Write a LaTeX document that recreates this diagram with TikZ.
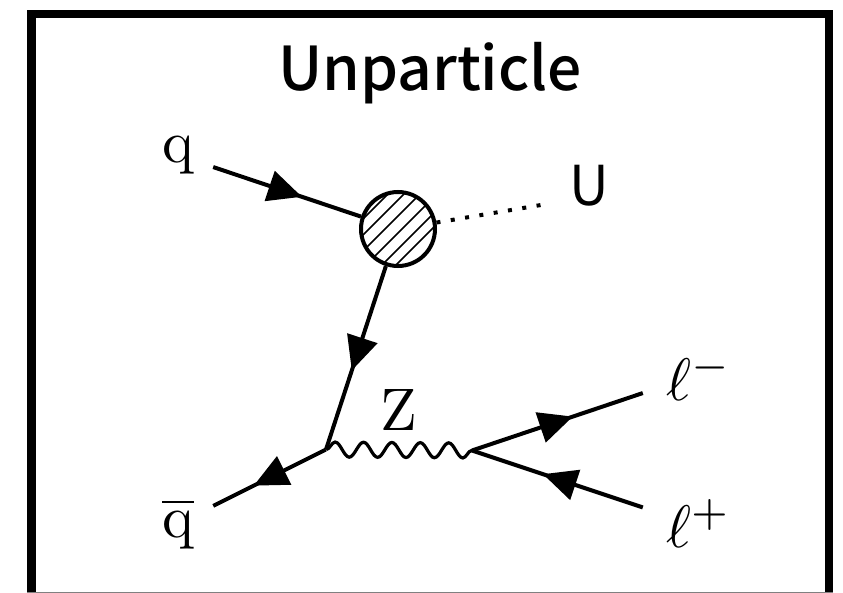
\documentclass[tikz,border=0pt]{standalone}
\usepackage{fontspec}
\newfontfamily\krfont{Noto Sans CJK KR}
\newfontfamily\krtitle{Noto Sans CJK KR Medium}
\usetikzlibrary{arrows.meta, decorations.markings, decorations.pathmorphing}

\begin{document}
\begin{tikzpicture}[
  x=1pt, y=-1pt,
  lbl/.style={inner sep=0pt, anchor=base, scale=6, transform shape},
  lblw/.style={lbl, anchor=base west},
  vertex/.style={inner sep=0pt, minimum size=0pt},
  blob/.style={circle, draw, line width=4pt, fill=white, minimum size=74pt, inner sep=0pt},
  line/.style={line width=4pt},
  fermion/.style={line, postaction={decorate}, decoration={markings,
      mark=at position #1 with {\arrow{Triangle[length=34pt, width=31pt]}}}},
  boson/.style={line width=3.2pt, decorate, decoration={snake, segment length=28.4pt, amplitude=7.5pt, pre length=0pt, post length=0pt}},
  scalar/.style={line width=4pt, dash pattern=on 4pt off 10.5pt},
]
\useasboundingbox (0,0) rectangle (843,593);
\draw[line width=8.3pt] (31.5,593) -- (31.5,14) -- (829,14) -- (829,593);
\draw[line width=0.6pt, gray] (27,592.6) -- (833,592.6);

\node[inner sep=0pt, anchor=base, font=\fontsize{60.5}{60.5}\selectfont\krtitle] (title) at (430,91) {Unparticle};

\node[blob] (blob) at (398,229) {};
\begin{scope}
  \clip (398,229) circle (36pt);
  \foreach \off in {-45,-29,-13,4,20,34}
    \draw[line width=1.7pt] ({398+\off/2-45},{229+\off/2+45}) -- ({398+\off/2+45},{229+\off/2-45});
\end{scope}

\node[vertex] (qin)  at (213,167) {};
\node[vertex] (qout) at (213,506) {};
\node[vertex] (vz)   at (326,449.5) {};
\node[vertex] (vl)   at (472,450.5) {};
\node[vertex] (lm)   at (643,393) {};
\node[vertex] (lp)   at (643,507.5) {};
\node[vertex] (uend) at (541,205) {};

\node[lbl]  (qlbl)  at (178,163) {q};
\node[lbl]  (qbar)  at (178,537) {$\overline{\mathrm{q}}$};
\node[lbl]  (zlbl)  at (399,430) {Z};
\node[lblw] (lmlbl) at (665,400) {$\ell^{-}$};
\node[lblw] (lplbl) at (665,547) {$\ell^{+}$};
\node[inner sep=0pt, anchor=base west, font=\fontsize{55}{55}\selectfont\krfont] (ulbl) at (569,206) {U};

\draw[fermion=0.6] (qin) -- (blob);
\draw[fermion=0.57] (blob) -- (vz);
\draw[fermion=0.64] (vz) -- (qout);
\draw[fermion=0.59] (vl) -- (lm);
\draw[fermion=0.585] (lp) -- (vl);
\draw[boson] (vz) -- (vl);
\draw[scalar] (blob) -- (uend);
\end{tikzpicture}
\end{document}
